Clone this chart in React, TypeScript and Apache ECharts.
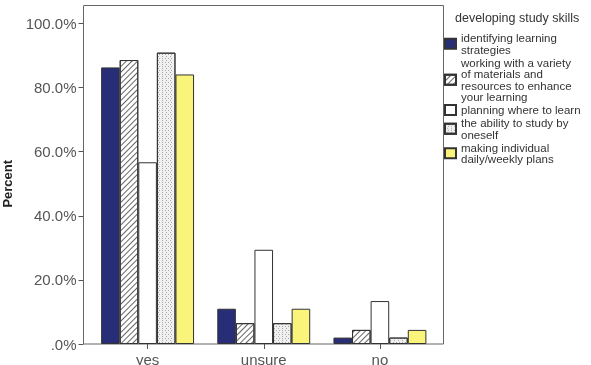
import React, { useEffect, useRef } from "react";
import * as echarts from "echarts";

// Categories on the x axis
const categories = ["yes", "unsure", "no"];

// Percent of respondents per answer, one array per study skill
const identifyingStrategies = [86.3, 11.0, 2.0];
const workingWithMaterials = [88.6, 6.5, 4.4];
const planningWhere = [56.7, 29.4, 13.4];
const studyByOneself = [90.9, 6.5, 2.0];
const dailyWeeklyPlans = [84.1, 11.0, 4.4];

// Legend labels (wrapped as in the legend box)
const seriesNames = [
  "identifying learning\nstrategies",
  "working with a variety\nof materials and\nresources to enhance\nyour learning",
  "planning where to learn",
  "the ability to study by\noneself",
  "making individual\ndaily/weekly plans",
];

const yTicks = [0, 20, 40, 60, 80, 100];

const FONT = "Liberation Sans, Arial, sans-serif";

export default function App() {
  const ref = useRef<HTMLDivElement>(null);

  useEffect(() => {
    if (!ref.current) return;
    const chart = echarts.init(ref.current, null, { renderer: "svg" });

    const border = { borderColor: "#333", borderWidth: 1 };
    const values = [
      identifyingStrategies,
      workingWithMaterials,
      planningWhere,
      studyByOneself,
      dailyWeeklyPlans,
    ];
    const styles: any[] = [
      { color: "#282d78", ...border },
      {
        color: "#ffffff",
        ...border,
        decal: {
          symbol: "rect",
          symbolSize: 1,
          color: "#666666",
          backgroundColor: "#ffffff",
          dashArrayX: [1, 0],
          dashArrayY: [1, 2.2],
          rotation: -Math.PI / 4,
        },
      },
      { color: "#ffffff", ...border },
      {
        color: "#f0f0f0",
        ...border,
        decal: {
          symbol: "rect",
          symbolSize: 1,
          color: "#a8a8a8",
          backgroundColor: "#f0f0f0",
          dashArrayX: [
            [1, 2],
            [0, 1.5, 1, 0.5],
          ],
          dashArrayY: [1, 1],
          rotation: 0,
        },
      },
      { color: "#faf47a", ...border },
    ];

    const series = seriesNames.map((name, i) => ({
      name,
      type: "bar",
      data: values[i],
      barGap: "0%",
      barCategoryGap: "20%",
      itemStyle: styles[i],
    }));

    chart.setOption({
      animation: false,
      textStyle: { fontFamily: FONT },
      title: {
        text: "developing study skills",
        left: 455,
        top: 11,
        padding: 0,
        textStyle: {
          fontSize: 12.5,
          fontWeight: "normal",
          color: "#333",
          fontFamily: FONT,
        },
      },
      legend: {
        orient: "vertical",
        left: 444,
        top: 32,
        padding: 0,
        itemGap: 1,
        itemWidth: 11,
        itemHeight: 10,
        icon: "rect",
        selectedMode: false,
        textStyle: {
          fontSize: 11.5,
          lineHeight: 11.5,
          color: "#333",
          fontFamily: FONT,
        },
        data: seriesNames,
      },
      grid: {
        left: 89.5,
        right: 153,
        top: 23.5,
        bottom: 21,
        containLabel: false,
        outerBoundsMode: "none",
      },
      xAxis: {
        type: "category",
        data: categories,
        axisLine: { show: false },
        axisTick: {
          show: true,
          alignWithLabel: true,
          length: 5,
          lineStyle: { color: "#555" },
        },
        axisLabel: {
          fontSize: 15,
          color: "#555",
          margin: 8,
          fontFamily: FONT,
        },
      },
      yAxis: {
        type: "value",
        min: 0,
        max: 100,
        interval: 20,
        offset: 6,
        name: "Percent",
        nameLocation: "middle",
        nameRotate: 90,
        nameGap: 70,
        nameTextStyle: {
          fontSize: 13,
          fontWeight: "bold",
          color: "#222",
          fontFamily: FONT,
        },
        axisLine: { show: false },
        axisTick: { show: true, length: 5, lineStyle: { color: "#555" } },
        splitLine: { show: false },
        axisLabel: {
          fontSize: 15,
          color: "#555",
          margin: 7,
          fontFamily: FONT,
          formatter: (v: number) =>
            yTicks.includes(v)
              ? (v === 0 ? ".0" : v.toFixed(1)) + "%"
              : "",
        },
      },
      graphic: [
        {
          type: "rect",
          silent: true,
          shape: { x: 83.5, y: 5.5, width: 360, height: 338.5 },
          style: { fill: "transparent", stroke: "#666", lineWidth: 1 },
        },
      ],
      series,
    });

    return () => chart.dispose();
  }, []);

  return (
    <div
      ref={ref}
      style={{ position: "fixed", left: 0, top: 0, width: 591, height: 365 }}
    />
  );
}
